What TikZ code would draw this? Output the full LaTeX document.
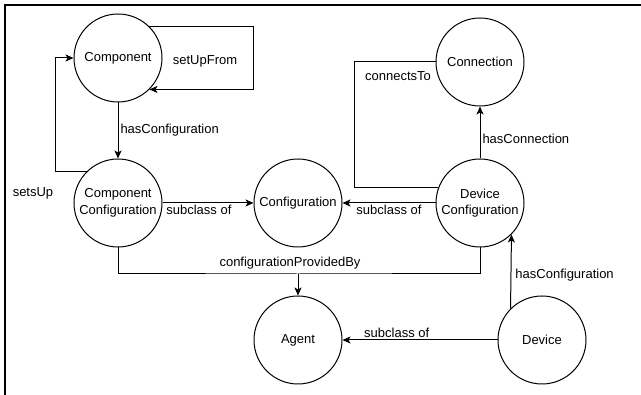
\documentclass[tikz,border=0pt]{standalone}
\usepackage{fontspec}
\setmainfont{Liberation Sans}
\usepackage{tikz}
\usetikzlibrary{arrows.meta}
\usetikzlibrary{calc}

\tikzset{
  cls/.style={draw, circle, line width=1pt, minimum size=88pt, inner sep=0pt, align=center},
  arr/.style={-{Stealth[length=8pt,width=7pt,inset=2pt]}},
  lbl/.style={inner sep=2pt}
}

\begin{document}
\begin{tikzpicture}[x=1pt,y=-1pt,line width=1pt,font=\fontsize{13}{16.5}\selectfont]
  \useasboundingbox (0,0) rectangle (641,395);
  \draw[line width=1.6pt] (5,395) -- (5,5) -- (641,5);
  \node[cls] (comp) at (118,58) {Component};
  \node[cls] (cc) at (118,203) {Component\\Configuration};
  \node[cls] (conf) at (298,203) {Configuration};
  \node[cls] (conn) at (480,62) {Connection};
  \node[cls] (dc) at (480,203) {Device\\Configuration};
  \node[cls] (agent) at (298,340) {Agent};
  \node[cls] (dev) at (542,340) {Device};
  \coordinate (prov) at (298,274);
  \node[lbl] (setsup) at (33,193) {setsUp};
  \node[lbl] (setupfrom) at (205,61) {setUpFrom};
  \node[lbl] (connto) at (398,76) {connectsTo};
  \node[lbl] (provby) at (290,263) {configurationProvidedBy};
  \draw [arr] (comp) -- node [right,lbl] {hasConfiguration} (cc);
  \draw [arr] (comp.north east) -- ++(104,0) |- (comp.south east);
  \draw [arr] (cc.north west) -- ++(-31,0) |- (comp.west);
  \draw [arr] (cc) -- node [below,pos=0.4,lbl] {subclass of} (conf);
  \draw [arr] (dc) -- node [below,pos=0.5,lbl] {subclass of} (conf);
  \draw [arr] (dc) -- node [right,pos=0.37,lbl] {hasConnection} (conn);
  \draw (dc.160) -- ++(-84,0) |- (conn.west);
  \draw (cc.south) |- (prov) -| (dc.south);
  \draw [arr] (prov) -- (agent);
  \draw [arr] (dev.north west) -- node [right,pos=0.45,lbl,xshift=2pt] {hasConfiguration} (dc.south east);
  \draw [arr] (dev) -- node [above,pos=0.65,lbl] {subclass of} (agent);
\end{tikzpicture}
\end{document}
